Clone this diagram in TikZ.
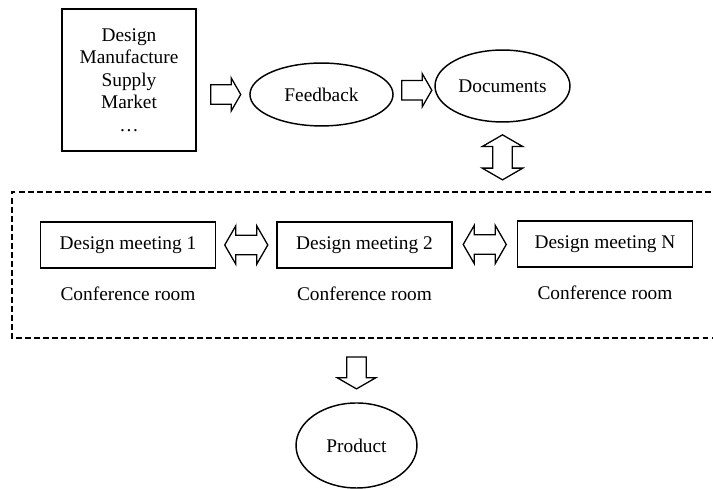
\documentclass[tikz,border=0pt]{standalone}
\usepackage{fontspec}
\setmainfont{Liberation Serif}
\usetikzlibrary{positioning,calc,shapes.geometric,shapes.arrows}

\begin{document}
\begin{tikzpicture}[
  x=0.62pt, y=-0.62pt,
  font=\fontsize{12}{14}\selectfont,
  srcbox/.style={draw, line width=0.9pt, align=center, minimum width=83pt, minimum height=88pt, inner sep=0pt},
  meetbox/.style={draw, line width=0.9pt, minimum width=108.5pt, minimum height=28.5pt, inner sep=0pt},
  oval/.style={draw, ellipse, line width=0.9pt, inner sep=0pt},
  roomlabel/.style={inner sep=0pt},
  fatarrow/.style={draw, single arrow, line width=0.8pt, inner xsep=0pt, inner ysep=5.6pt, minimum height=18.6pt, minimum width=19.8pt, single arrow tip angle=120, single arrow head extend=4.3pt},
  fatdouble/.style={draw, double arrow, line width=0.8pt, inner xsep=0pt, inner ysep=5.6pt, minimum height=26.7pt, minimum width=22.9pt, double arrow tip angle=120, double arrow head extend=5.9pt},
  frame/.style={line width=0.8pt, dash pattern=on 3.7pt off 1.9pt}
]
\useasboundingbox (0,0) rectangle (713,489);

% sources and feedback line
\node[srcbox] (src) at (129,80) {Design\\ Manufacture\\ Supply\\ Market\\ \dots};
\node[oval, minimum width=88.7pt, minimum height=39pt] (fb) at (321.5,94.5) {Feedback};
\node[oval, minimum width=83.7pt, minimum height=44.6pt] (doc) at (502.5,86) {Documents};

% meeting frame
\coordinate (fr-tl) at (12,192);
\coordinate (fr-tr) at (720,192);
\coordinate (fr-bl) at (12,338);
\coordinate (fr-br) at (720,338);
\draw[frame] (fr-tr) -- (fr-tl) -- (fr-bl) -- (fr-br);

\node[meetbox] (m1) at (128,245) {Design meeting 1};
\node[meetbox] (m2) at (364.5,245) {Design meeting 2};
\node[meetbox] (mn) at (605,244) {Design meeting N};
\node[roomlabel, below=11pt of m1] (r1) {Conference room};
\node[roomlabel, below=11pt of m2] (r2) {Conference room};
\node[roomlabel, below=11pt of mn] (rn) {Conference room};

\node[oval, minimum width=75pt, minimum height=52.7pt] (prod) at (356.5,445.5) {Product};

% block arrows
\node[fatarrow] (a1) at ($(src.east |- fb.center)!0.5!(fb.west)$) {};
\node[fatarrow] (a2) at ($(fb.east)!0.5!(doc.west)$) {};
\node[fatdouble, minimum height=27.9pt, minimum width=24.8pt, double arrow head extend=6.6pt, rotate=90] (a3) at ($(doc.south)!0.5!(doc.south |- fr-tl)$) {};
\node[fatdouble] (a4) at ($(m1.east)!0.5!(m2.west)$) {};
\node[fatdouble] (a5) at ($(m2.east)!0.5!(mn.west)$) {};
\node[fatarrow, minimum height=19.8pt, minimum width=22.9pt, single arrow head extend=5.9pt, rotate=-90] (a6) at ($(prod.north |- fr-bl)!0.5!(prod.north)$) {};

\end{tikzpicture}
\end{document}
